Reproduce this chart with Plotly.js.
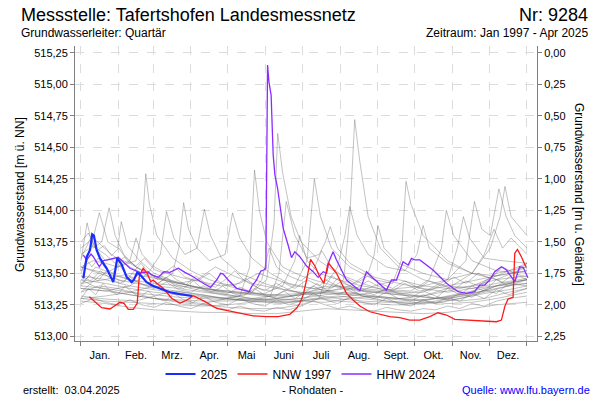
<!DOCTYPE html>
<html>
<head>
<meta charset="utf-8">
<script src="https://cdn.plot.ly/plotly-3.0.1.min.js"></script>
<style>html,body{margin:0;padding:0;background:#fff;}#chart{width:600px;height:400px;}</style>
</head>
<body>
<div id="chart"></div>
<script>
// ---- axis / label data ----
const monthStarts = [0,31,59,90,120,151,181,212,243,273,304,334,365];
const monthLabels = ["Jan.","Feb.","Mrz.","Apr.","Mai","Juni","Juli","Aug.","Sept.","Okt.","Nov.","Dez."];
const levelTicks = [513.00,513.25,513.50,513.75,514.00,514.25,514.50,514.75,515.00,515.25];
const depthTicks = [0,0.25,0.5,0.75,1,1.25,1.5,1.75,2,2.25];
const groundLevel = 515.25;

// ---- 2025 (day of year, level m ü. NN) ----
const y2025_day = [1.9,4.7,7.4,9.2,10.6,12.8,15.5,21,26.4,29.7,33.3,37.4,41.5,43.3,46,48.3,53.7,59.1,64.6,72.8,81,87.8,91];
const y2025_val = [513.46,513.63,513.685,513.81,513.80,513.685,513.62,513.54,513.43,513.62,513.57,513.47,513.43,513.45,513.505,513.49,513.43,513.40,513.38,513.35,513.335,513.325,513.32];

// ---- NNW 1997 ----
const nnw1997_day = [6.8,12.8,16.9,23.7,27,31.9,35.2,38.7,42.8,46,47.7,50.9,54.2,57,59.1,61.9,67.3,74.2,81,87.8,91.8,100,111,124.6,140.9,151.9,161.4,170.9,176.4,179.1,181.8,184.6,187.9,191.4,195.5,198.7,201,202.3,205,209.1,213.2,217.3,222.7,228.2,236.4,244.5,252.7,260.9,269.1,277.3,285.4,292.2,299.1,305.9,320.9,340,344.1,346.8,349.5,353.6,355,357.2,360.4,364];
const nnw1997_val = [513.314,513.262,513.227,513.217,513.24,513.27,513.262,513.214,513.214,513.262,513.473,513.54,513.50,513.433,513.447,513.421,513.381,513.302,513.262,513.294,513.322,513.283,513.222,513.195,513.163,513.156,513.156,513.175,513.222,513.262,513.328,513.447,513.611,513.558,513.473,513.421,513.513,513.584,513.552,513.50,513.421,513.341,513.288,513.24,513.195,513.175,513.156,513.148,513.129,513.129,513.156,513.187,513.169,513.135,513.124,513.116,513.129,513.235,513.296,513.31,513.659,513.69,513.632,513.552];

// ---- HHW 2024 ----
const hhw2024_day = [1.9,4.7,8.2,10.1,15,18.2,30.5,33.3,40.1,48.3,53.2,55,57.8,63.2,67.9,72.8,76.9,79.6,85.1,91.8,100,106.1,111,114.3,116.4,120.5,127.3,134.1,137.6,139.6,143.7,147.2,149.7,151.3,152.7,153.8,155.6,157.3,158.7,160.9,162.8,165.5,169.5,172.3,175,179.1,184.6,190,194.1,198.2,201,202.9,206.3,209.1,217.3,228.2,233.7,237.8,250,254.1,258.2,260.9,263.6,267.7,270.5,273.2,277.3,288.1,299.1,308.6,315.5,322.2,326.3,330.4,334.5,338.6,344.1,348.2,355,359,361.8,365.8];
const hhw2024_val = [513.645,513.606,513.653,513.632,513.552,513.60,513.627,513.60,513.54,513.505,513.505,513.513,513.487,513.468,513.513,513.508,513.526,513.54,513.508,513.473,513.421,513.389,513.447,513.50,513.494,513.447,513.381,513.362,513.354,513.394,513.447,513.518,513.526,513.54,515.153,515.021,514.915,514.439,514.281,514.175,514.042,513.857,513.725,513.624,513.671,513.632,513.558,513.513,513.468,513.513,513.50,513.592,513.671,513.606,513.447,513.362,513.513,513.473,513.367,513.447,513.447,513.526,513.592,513.566,513.619,513.606,513.606,513.526,513.421,513.354,513.341,513.354,513.407,513.407,513.447,513.513,513.552,513.526,513.433,513.552,513.548,513.465];

// ---- other years 1997-2024 (gray) ----
const g01_day = [0,10,25,40,60,80,100,120,140,152,158,161,165,172,180,195,210,230,250,270,290,310,330,350,365];
const g01_val = [513.45,513.40,513.36,513.33,513.30,513.28,513.26,513.30,513.35,513.45,513.90,514.61,514.30,513.95,513.75,513.60,513.50,513.42,513.36,513.33,513.30,513.28,513.30,513.35,513.38];
const g02_day = [0,15,30,45,60,80,100,120,140,160,180,200,215,220,224,228,235,245,260,280,300,320,340,365];
const g02_val = [513.55,513.50,513.45,513.42,513.40,513.38,513.35,513.33,513.30,513.28,513.30,513.35,513.45,513.95,514.72,514.40,513.95,513.70,513.55,513.45,513.40,513.38,513.40,513.45];
const g03_day = [0,12,25,40,55,70,85,100,115,130,138,142,146,152,165,180,200,220,240,260,280,300,320,340,365];
const g03_val = [513.40,513.55,513.50,513.45,513.40,513.37,513.35,513.33,513.30,513.32,513.55,514.32,514.00,513.75,513.55,513.48,513.42,513.38,513.35,513.33,513.31,513.30,513.33,513.40,513.42];
const g04_day = [0,15,30,45,50,53,56,62,75,90,105,120,140,160,180,200,220,240,260,280,300,320,340,365];
const g04_val = [513.35,513.48,513.55,513.60,513.85,514.29,514.05,513.80,513.62,513.52,513.45,513.40,513.35,513.30,513.28,513.27,513.30,513.32,513.30,513.28,513.26,513.27,513.30,513.35];
const g05_day = [0,5,10,17,23,28,35,45,60,75,90,110,130,150,170,190,210,230,250,270,290,310,330,350,365];
const g05_val = [513.60,513.90,513.70,513.75,514.02,513.80,513.65,513.55,513.48,513.42,513.38,513.34,513.30,513.28,513.27,513.30,513.32,513.30,513.28,513.27,513.26,513.30,513.35,513.40,513.45];
const g06_day = [0,8,15,22,30,33,38,48,60,75,90,105,120,140,160,180,200,220,240,260,280,300,320,340,365];
const g06_val = [513.50,513.70,513.98,513.75,513.70,513.91,513.72,513.60,513.50,513.44,513.40,513.36,513.33,513.30,513.29,513.30,513.33,513.35,513.32,513.30,513.29,513.31,513.35,513.50,513.55];
const g07_day = [0,20,40,55,65,70,76,85,95,101,106,115,130,150,170,190,210,230,250,270,290,310,330,350,365];
const g07_val = [513.38,513.36,513.40,513.50,513.65,513.99,513.78,513.65,513.70,514.01,513.80,513.62,513.50,513.42,513.36,513.33,513.30,513.28,513.27,513.26,513.30,513.34,513.38,513.42,513.45];
const g08_day = [0,20,40,60,75,80,84,88,95,105,118,124,130,140,155,170,190,210,230,250,270,290,310,330,350,365];
const g08_val = [513.30,513.32,513.35,513.40,513.50,513.70,514.06,513.85,513.70,513.60,513.65,513.98,513.78,513.62,513.50,513.42,513.38,513.35,513.33,513.30,513.28,513.30,513.33,513.36,513.40,513.42];
const g09_day = [0,20,40,60,80,100,120,140,160,175,185,191,196,205,220,240,255,262,266,270,280,300,320,340,365];
const g09_val = [513.40,513.38,513.35,513.33,513.31,513.30,513.29,513.30,513.33,513.40,513.60,514.25,513.95,513.70,513.55,513.45,513.42,513.60,514.23,514.05,513.80,513.60,513.50,513.45,513.48];
const g10_day = [0,20,40,60,80,100,120,140,160,180,200,220,240,260,280,300,315,322,328,335,342,348,355,365];
const g10_val = [513.45,513.42,513.38,513.35,513.33,513.31,513.30,513.28,513.27,513.28,513.30,513.32,513.35,513.38,513.40,513.45,513.60,514.07,513.85,513.80,514.17,513.95,513.80,513.70];
const g11_day = [0,20,40,60,80,100,120,140,160,180,200,220,235,240,243,248,260,280,300,320,335,343,347,352,365];
const g11_val = [513.55,513.50,513.45,513.42,513.40,513.38,513.35,513.33,513.31,513.33,513.35,513.40,513.50,513.65,513.88,513.70,513.58,513.50,513.45,513.50,513.70,513.95,514.19,513.95,513.80];
const g12_day = [0,20,40,60,80,100,120,140,160,180,200,210,216,220,226,235,250,265,275,280,285,300,320,340,365];
const g12_val = [513.30,513.28,513.27,513.26,513.25,513.24,513.25,513.27,513.30,513.33,513.40,513.55,513.80,514.03,513.80,513.65,513.55,513.52,513.65,513.88,513.70,513.58,513.50,513.48,513.52];
const g13_day = [0,20,40,60,80,100,120,140,155,162,168,175,185,195,200,204,210,220,240,260,280,300,320,340,365];
const g13_val = [513.48,513.45,513.40,513.37,513.34,513.32,513.30,513.28,513.32,513.50,514.07,513.80,513.62,513.65,513.75,513.87,513.70,513.58,513.47,513.42,513.38,513.35,513.38,513.42,513.46];
const g14_day = [0,20,40,60,80,100,120,140,160,180,200,220,240,260,280,300,320,340,365];
const g14_val = [513.28,513.26,513.23,513.21,513.20,513.19,513.19,513.18,513.18,513.20,513.22,513.21,513.20,513.19,513.18,513.19,513.22,513.25,513.27];
const g15_day = [0,15,30,45,60,80,100,120,140,160,180,195,200,210,230,250,270,290,310,330,350,365];
const g15_val = [513.35,513.40,513.38,513.34,513.30,513.27,513.25,513.23,513.22,513.22,513.25,513.30,513.45,513.40,513.32,513.28,513.26,513.27,513.30,513.34,513.37,513.40];
const g16_day = [0,10,20,30,40,50,60,75,90,105,120,135,150,170,190,210,230,250,270,290,310,330,350,365];
const g16_val = [513.65,513.72,513.60,513.62,513.58,513.52,513.48,513.44,513.40,513.37,513.35,513.34,513.33,513.32,513.36,513.40,513.38,513.36,513.35,513.38,513.42,513.46,513.50,513.52];
const g17_day = [0,10,25,40,55,70,90,110,130,150,165,175,179,185,195,210,230,250,270,285,295,299,305,320,340,365];
const g17_val = [513.70,513.78,513.65,513.55,513.48,513.44,513.40,513.37,513.35,513.34,513.40,513.60,513.80,513.60,513.50,513.45,513.40,513.37,513.36,513.45,513.70,514.00,513.80,513.60,513.52,513.50];
const g18_day = [0,20,40,60,80,100,120,140,160,180,200,220,240,260,280,300,308,313,318,330,345,365];
const g18_val = [513.42,513.45,513.50,513.46,513.42,513.38,513.36,513.34,513.33,513.34,513.36,513.38,513.36,513.34,513.35,513.45,513.70,513.95,513.78,513.62,513.60,513.58];
const g19_day = [0,10,20,30,40,45,50,60,70,85,100,115,130,145,160,175,190,205,220,240,260,280,300,320,340,365];
const g19_val = [513.55,513.60,513.58,513.55,513.60,513.78,513.65,513.55,513.50,513.46,513.43,513.40,513.42,513.50,513.45,513.40,513.38,513.40,513.37,513.35,513.33,513.32,513.36,513.40,513.45,513.55];
const g20_day = [0,15,30,45,60,75,90,105,120,135,150,165,180,195,210,225,240,255,270,285,300,315,330,345,365];
const g20_val = [513.32,513.30,513.29,513.28,513.32,513.36,513.34,513.32,513.30,513.28,513.27,513.26,513.28,513.30,513.28,513.27,513.26,513.25,513.25,513.27,513.30,513.33,513.36,513.42,513.45];
const g21_day = [0,6,12,20,28,36,45,55,65,80,95,110,125,140,160,180,200,220,240,260,280,300,320,340,365];
const g21_val = [513.75,513.82,513.70,513.65,513.58,513.63,513.55,513.50,513.46,513.42,513.45,513.55,513.48,513.42,513.38,513.35,513.34,513.33,513.40,513.45,513.40,513.38,513.40,513.48,513.58];
const g22_day = [0,20,40,60,80,100,120,140,160,180,200,220,240,260,280,300,320,330,338,345,352,358,365];
const g22_val = [513.38,513.36,513.33,513.30,513.29,513.28,513.28,513.29,513.30,513.33,513.35,513.33,513.31,513.30,513.32,513.38,513.50,513.65,513.85,513.70,513.78,513.72,513.65];
const g23_day = [0,5,9,14,20,26,31,37,44,50,57,63,70,77,84,92,100,108,116,124,133,142,150,158,166,175,184,193,202,211,220,230,240,250,260,270,280,290,300,310,320,330,340,350,358,365];
const g23_val = [513.52,513.60,513.55,513.62,513.54,513.50,513.57,513.49,513.46,513.52,513.45,513.42,513.47,513.40,513.38,513.44,513.37,513.35,513.40,513.34,513.32,513.38,513.33,513.31,513.36,513.30,513.35,513.42,513.36,513.33,513.38,513.32,513.30,513.35,513.30,513.28,513.33,513.30,513.38,513.33,513.40,513.36,513.45,513.40,513.48,513.45];
const g24_day = [0,6,12,18,24,30,36,42,48,55,62,69,76,84,92,100,110,120,130,140,150,160,170,180,190,200,210,220,230,240,250,260,270,280,290,300,310,320,330,340,350,365];
const g24_val = [513.30,513.38,513.33,513.42,513.36,513.33,513.40,513.35,513.31,513.36,513.30,513.28,513.34,513.29,513.27,513.32,513.27,513.25,513.30,513.26,513.24,513.29,513.25,513.28,513.34,513.29,513.26,513.31,513.27,513.25,513.30,513.26,513.24,513.29,513.26,513.31,513.28,513.34,513.30,513.37,513.33,513.38];
const g25_day = [0,4,8,13,19,25,31,38,45,52,60,68,76,85,95,105,115,125,135,145,155,165,175,185,195,205,215,225,235,245,255,265,275,285,295,305,315,325,335,345,355,365];
const g25_val = [513.62,513.70,513.78,513.68,513.72,513.64,513.70,513.60,513.56,513.62,513.53,513.50,513.56,513.47,513.44,513.50,513.42,513.40,513.46,513.38,513.36,513.43,513.38,513.45,513.40,513.48,513.42,513.38,513.44,513.39,513.36,513.42,513.37,513.44,513.40,513.47,513.42,513.50,513.46,513.55,513.50,513.58];
const g26_day = [0,7,14,21,28,35,42,49,56,63,70,78,86,94,102,110,118,126,134,142,150,160,170,180,190,200,210,220,230,240,250,260,270,280,290,300,310,320,330,340,350,365];
const g26_val = [513.42,513.48,513.44,513.52,513.46,513.43,513.50,513.58,513.50,513.45,513.52,513.45,513.41,513.48,513.42,513.39,513.45,513.52,513.44,513.40,513.36,513.42,513.37,513.34,513.40,513.35,513.46,513.40,513.36,513.33,513.38,513.34,513.31,513.36,513.32,513.29,513.34,513.31,513.37,513.34,513.42,513.40];
const g27_day = [0,10,20,30,40,50,60,70,80,90,100,110,120,130,140,150,160,170,180,190,200,210,220,230,240,250,260,270,280,290,300,310,320,330,340,350,365];
const g27_val = [513.26,513.30,513.27,513.25,513.29,513.25,513.23,513.27,513.24,513.22,513.26,513.23,513.21,513.24,513.21,513.20,513.23,513.21,513.24,513.28,513.25,513.22,513.24,513.21,513.20,513.23,513.21,513.20,513.22,513.21,513.24,513.22,513.26,513.24,513.28,513.30,513.32];
const g28_day = [0,8,16,24,32,40,50,60,70,80,90,100,110,120,130,140,148,154,160,170,180,190,197,205,215,225,235,245,255,265,275,285,295,305,315,325,335,345,355,365];
const g28_val = [513.48,513.44,513.52,513.46,513.42,513.47,513.41,513.38,513.43,513.37,513.35,513.40,513.36,513.34,513.39,513.35,513.45,513.70,513.55,513.48,513.44,513.52,513.68,513.55,513.47,513.42,513.48,513.42,513.38,513.44,513.39,513.36,513.41,513.37,513.44,513.40,513.47,513.43,513.50,513.47];

const grayDays = [g01_day,g02_day,g03_day,g04_day,g05_day,g06_day,g07_day,g08_day,g09_day,g10_day,g11_day,g12_day,g13_day,g14_day,g15_day,g16_day,g17_day,g18_day,g19_day,g20_day,g21_day,g22_day,g23_day,g24_day,g25_day,g26_day,g27_day,g28_day];
const grayVals = [g01_val,g02_val,g03_val,g04_val,g05_val,g06_val,g07_val,g08_val,g09_val,g10_val,g11_val,g12_val,g13_val,g14_val,g15_val,g16_val,g17_val,g18_val,g19_val,g20_val,g21_val,g22_val,g23_val,g24_val,g25_val,g26_val,g27_val,g28_val];

// ---- geometry helpers (plot area 75..537 x 46..341 px) ----
const PL = 75, PR = 537, PT = 46, PB = 341;
const PW = PR - PL, PH = PB - PT;
const px = v => (v - PL) / PW;
const py = v => (PB - v) / PH;
const xRange = [-4.9, 373.2];
const yRange = [512.963, 515.304];

const FONT = '"Liberation Sans", Arial, Helvetica, sans-serif';

const traces = [];
grayDays.forEach((d, i) => {
  traces.push({x: d, y: grayVals[i], type: 'scatter', mode: 'lines',
    line: {color: 'rgba(105,105,105,0.45)', width: 0.9},
    showlegend: false, hoverinfo: 'skip'});
});
traces.push({x: hhw2024_day, y: hhw2024_val, type: 'scatter', mode: 'lines', name: 'HHW 2024',
  line: {color: '#8b2cff', width: 1.3}, legendrank: 3});
traces.push({x: nnw1997_day, y: nnw1997_val, type: 'scatter', mode: 'lines', name: 'NNW 1997',
  line: {color: '#ff1a1a', width: 1.3}, legendrank: 2});
traces.push({x: y2025_day, y: y2025_val, type: 'scatter', mode: 'lines', name: '2025',
  line: {color: '#1a2cff', width: 2.2}, legendrank: 1});
// dummy trace so the right (depth) axis is built
traces.push({x: [], y: [], yaxis: 'y2', type: 'scatter', mode: 'lines', showlegend: false, hoverinfo: 'skip'});

const midMonths = monthStarts.slice(0, 12).map((s, i) => (s + monthStarts[i + 1]) / 2);

const ann = (text, x, y, xanchor, size, extra) => Object.assign({
  text, x, y, xref: 'paper', yref: 'paper', xanchor, yanchor: 'middle',
  showarrow: false, font: {family: FONT, size, color: '#000'}
}, extra || {});

const layout = {
  width: 600, height: 400,
  margin: {l: PL, r: 600 - PR, t: PT, b: 400 - PB, pad: 0},
  paper_bgcolor: '#fff', plot_bgcolor: '#fff',
  separators: ',.',
  font: {family: FONT, size: 11, color: '#000'},
  showlegend: true,
  legend: {orientation: 'h', x: px(301), xanchor: 'center', y: py(374), yanchor: 'middle',
    font: {family: FONT, size: 12, color: '#000'}, traceorder: 'normal',
    itemwidth: 30, tracegroupgap: 0, bgcolor: 'rgba(0,0,0,0)'},
  xaxis: {
    range: xRange, fixedrange: true, zeroline: false,
    showline: true, linecolor: '#808080', linewidth: 1,
    tickmode: 'array', tickvals: midMonths, ticktext: monthLabels, ticks: '',
    showgrid: false, ticklabelstandoff: 4,
    tickfont: {family: FONT, size: 11, color: '#000'},
    minor: {tickmode: 'array', tickvals: monthStarts, ticks: 'outside', ticklen: 4, tickcolor: '#808080',
      tickwidth: 1, showgrid: true, gridcolor: '#dcdcdc', griddash: 'dash', gridwidth: 1}
  },
  yaxis: {
    range: yRange, fixedrange: true, zeroline: false,
    showline: true, linecolor: '#808080', linewidth: 1,
    tickmode: 'array', tickvals: levelTicks, tickformat: '.2f',
    ticks: 'outside', ticklen: 4, tickcolor: '#808080',
    showgrid: true, gridcolor: '#dcdcdc', griddash: 'dash',
    tickfont: {family: FONT, size: 11, color: '#000'}
  },
  yaxis2: {
    overlaying: 'y', side: 'right', anchor: 'x',
    range: [groundLevel - yRange[0], groundLevel - yRange[1]], fixedrange: true, zeroline: false,
    showline: true, linecolor: '#808080', linewidth: 1,
    tickmode: 'array', tickvals: depthTicks, tickformat: '.2f',
    ticks: 'outside', ticklen: 4, tickcolor: '#808080', showgrid: false,
    tickfont: {family: FONT, size: 11, color: '#000'}
  },
  annotations: [
    ann('Messstelle: Tafertshofen Landesmessnetz', px(19), py(15), 'left', 18),
    ann('Nr: 9284', px(590), py(15), 'right', 18),
    ann('Grundwasserleiter: Quartär', px(19), py(33), 'left', 12),
    ann('Zeitraum: Jan 1997 - Apr 2025', px(590), py(33), 'right', 12),
    ann('Grundwasserstand [m ü. NN]', px(20), py(195), 'center', 12, {textangle: -90}),
    ann('Grundwasserstand [m u. Gelände]', px(579), py(194), 'center', 12, {textangle: 90}),
    ann('erstellt:\u00a0\u00a003.04.2025', px(21), py(390), 'left', 11),
    ann('- Rohdaten -', px(312), py(390), 'center', 11),
    ann('Quelle: www.lfu.bayern.de', px(592), py(390), 'right', 11, {font: {family: FONT, size: 11, color: '#0000ff'}})
  ]
};

Plotly.newPlot('chart', traces, layout, {staticPlot: true, displayModeBar: false});
</script>
</body>
</html>
